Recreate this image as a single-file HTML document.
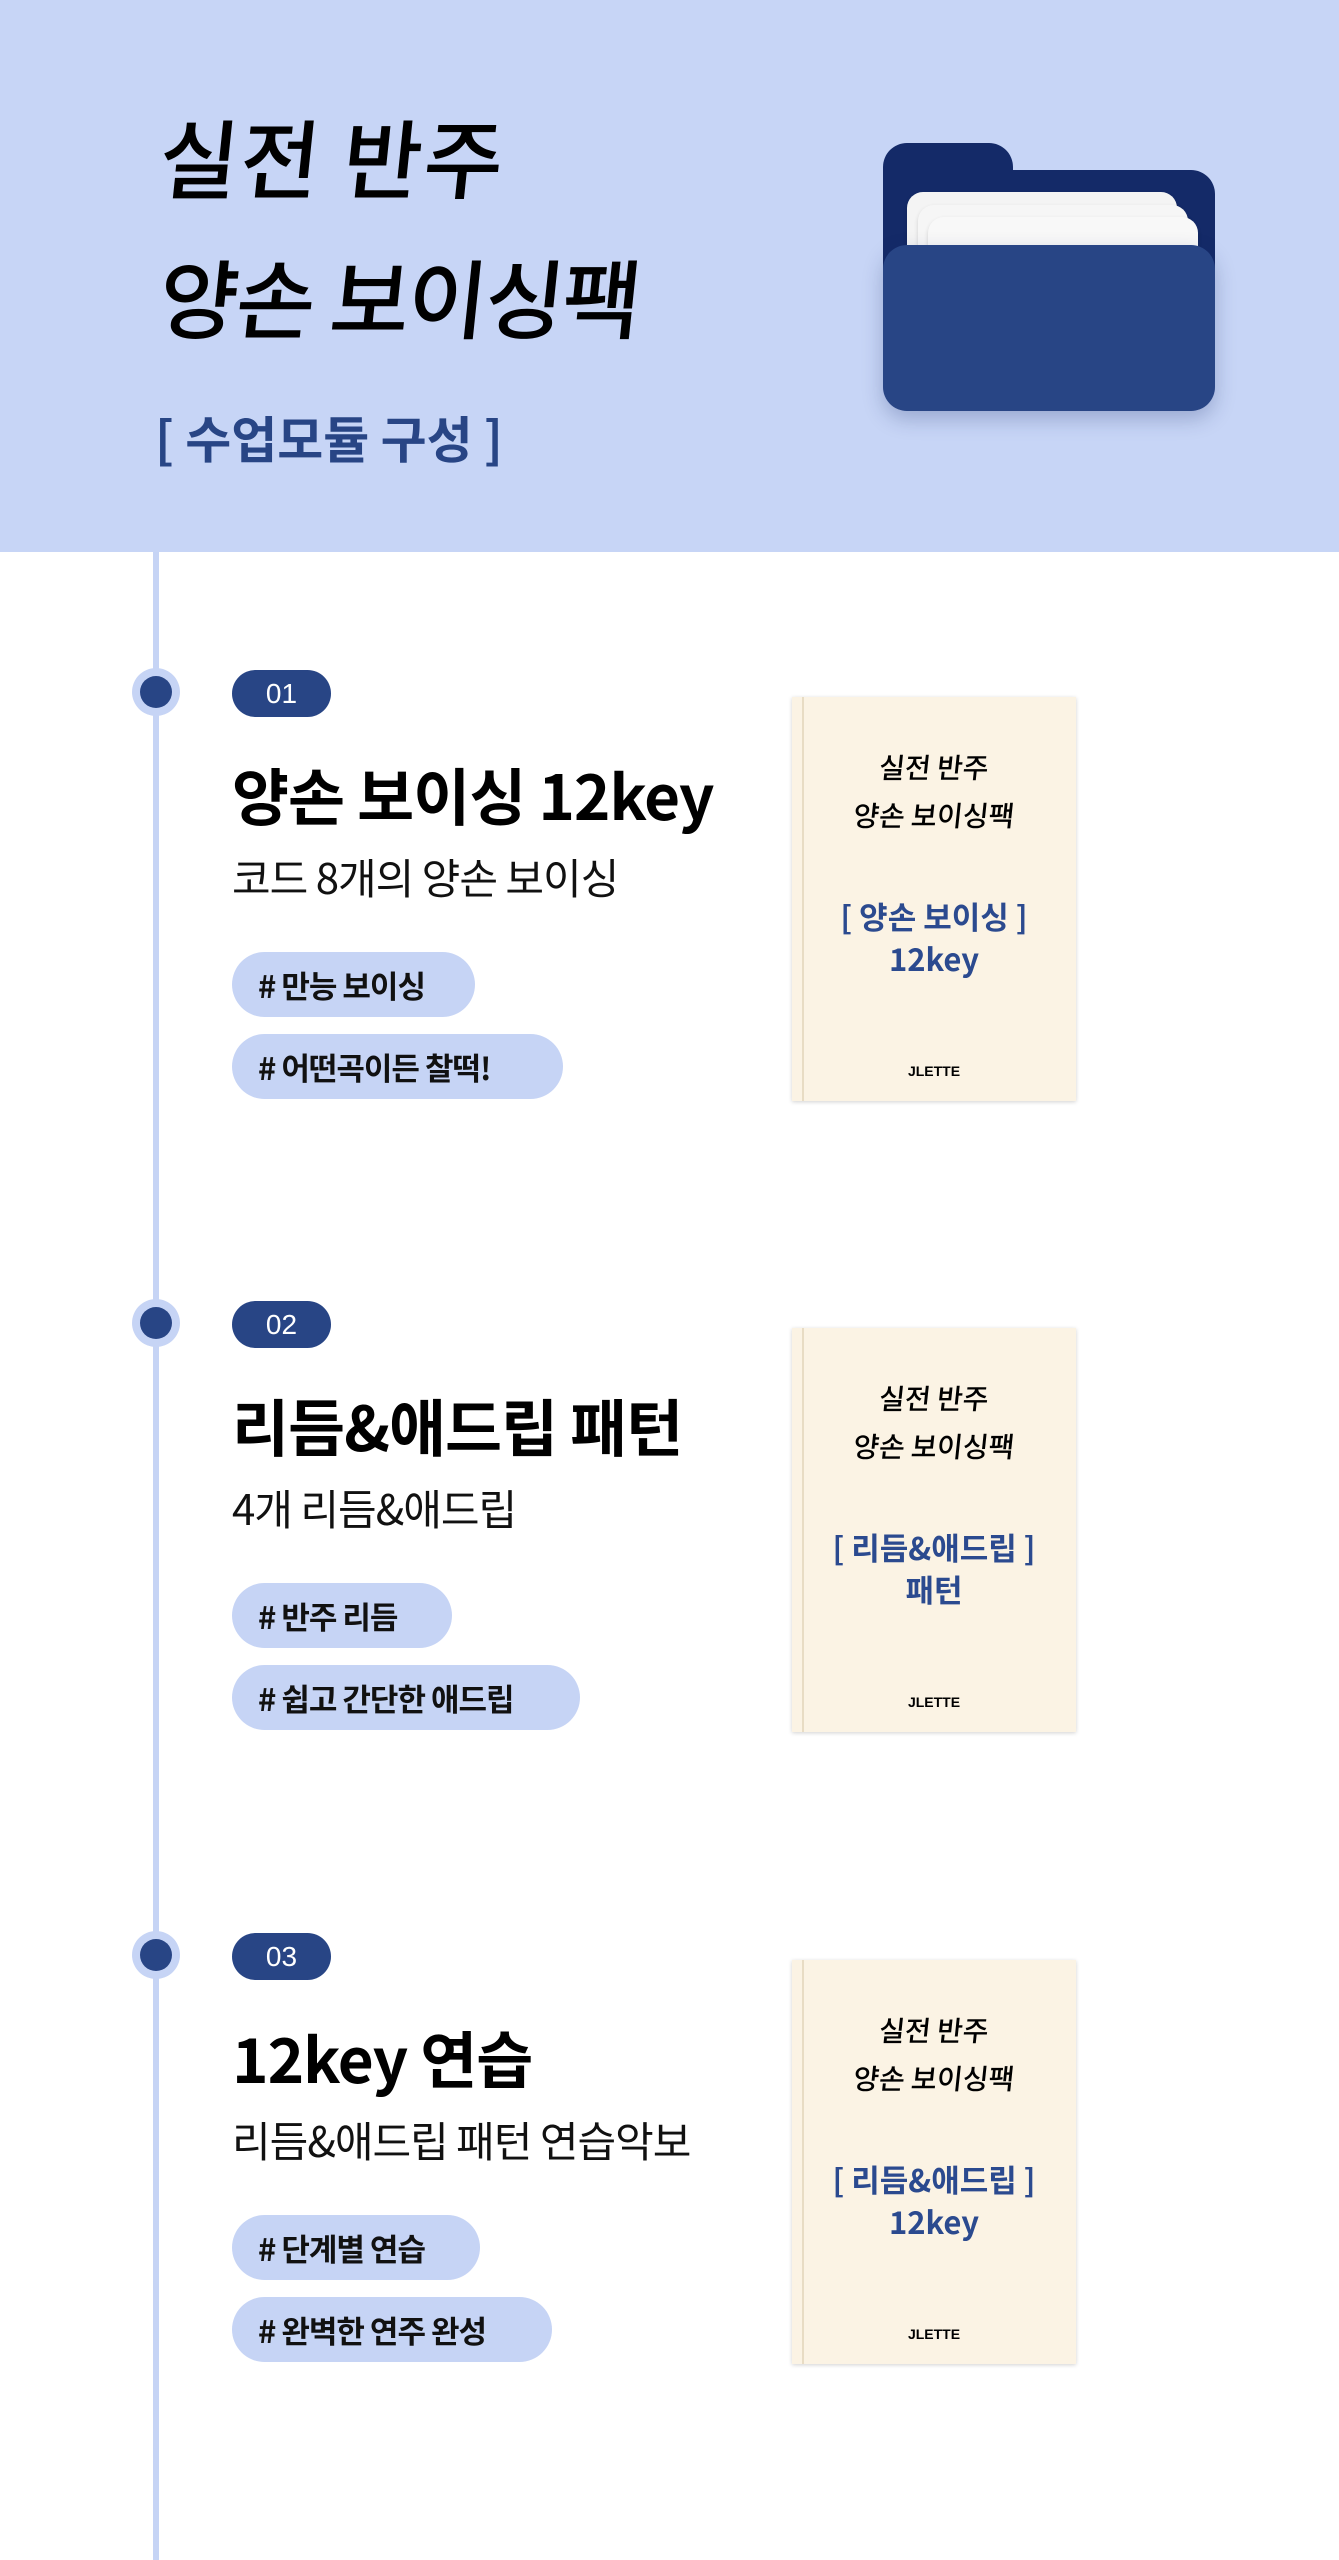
<!DOCTYPE html>
<html><head><meta charset="utf-8"><style>
*{margin:0;padding:0;box-sizing:border-box}
body{width:1339px;height:2560px;position:relative;background:#fff;font-family:"Liberation Sans","Noto Sans CJK KR",sans-serif;overflow:hidden}
.a{position:absolute;white-space:nowrap}
.hand{font-family:"Noto Sans CJK KR",sans-serif;font-weight:500;transform:skewX(-6deg)}
.line{left:153px;top:552px;width:6px;height:2008px;background:#c6d4f5}
.dot{width:48px;height:48px;border-radius:50%;background:#c6d4f5;left:132px}
.dot::after{content:"";position:absolute;left:8px;top:8px;width:32px;height:32px;border-radius:50%;background:#284585}
.badge{left:232px;width:99px;height:47px;border-radius:24px;background:#284585;color:#fff;font-size:28px;text-align:center;line-height:47px}
.title{left:232px;font-size:62px;font-weight:700;color:#000;font-family:"Noto Sans CJK KR",sans-serif;letter-spacing:-1px}
.sub{left:232px;font-size:42px;color:#111;font-family:"Noto Sans CJK KR",sans-serif;letter-spacing:-1px}
.tag{left:232px;height:65px;border-radius:33px;background:#c6d4f5;font-size:31px;font-weight:700;line-height:65px;padding-left:26px;font-family:"Noto Sans CJK KR",sans-serif;color:#111;letter-spacing:-1px}
.book{left:792px;width:284px;height:404px;background:#fbf3e4;box-shadow:0 1px 4px rgba(0,0,0,.18)}
.book::before{content:"";position:absolute;left:10px;top:0;width:2px;height:100%;background:#e8dcc4}
.bt{position:absolute;left:0;width:100%;text-align:center;white-space:nowrap}
.bh{font-size:28px;color:#000}
.bb{font-size:31px;color:#2b4a8f;font-weight:600;font-family:"Noto Sans CJK KR",sans-serif}
.bj{font-size:14px;font-weight:700;color:#000}
</style></head><body>
<div class="a" style="left:0;top:0;width:1339px;height:552px;background:#c7d5f6"></div>
<div class="a hand" style="left:160px;top:100px;font-size:86px;line-height:110px;color:#000;letter-spacing:2px">실전 반주</div>
<div class="a hand" style="left:160px;top:240px;font-size:86px;line-height:110px;color:#000;letter-spacing:-2px">양손 보이싱팩</div>
<div class="a" style="left:155px;top:406px;font-size:50px;font-weight:700;color:#284585;line-height:62px;font-family:'Noto Sans CJK KR',sans-serif">[ 수업모듈 구성 ]</div>
<!-- folder -->
<div class="a" style="left:883px;top:143px;width:130px;height:60px;background:#142a68;border-radius:24px 24px 0 0"></div>
<div class="a" style="left:883px;top:170px;width:332px;height:200px;background:#142a68;border-radius:0 24px 0 0"></div>
<div class="a" style="left:907px;top:192px;width:270px;height:80px;background:#f4f4f4;border-radius:16px 16px 0 0;box-shadow:0 2px 4px rgba(0,0,0,.15)"></div>
<div class="a" style="left:918px;top:205px;width:270px;height:80px;background:#f6f6f6;border-radius:16px 16px 0 0;box-shadow:0 2px 4px rgba(0,0,0,.15)"></div>
<div class="a" style="left:928px;top:217px;width:270px;height:80px;background:#f8f8f8;border-radius:16px 16px 0 0;box-shadow:0 2px 4px rgba(0,0,0,.15)"></div>
<div class="a" style="left:883px;top:245px;width:332px;height:166px;background:#284585;border-radius:24px;box-shadow:0 8px 20px rgba(20,40,100,.25)"></div>

<div class="a line"></div>

<!-- section 1 -->
<div class="a dot" style="top:668px"></div>
<div class="a badge" style="top:670px">01</div>
<div class="a title" style="top:748px">양손 보이싱 12key</div>
<div class="a sub" style="top:846px">코드 8개의 양손 보이싱</div>
<div class="a tag" style="top:952px;width:243px"># 만능 보이싱</div>
<div class="a tag" style="top:1034px;width:331px"># 어떤곡이든 찰떡!</div>
<div class="a book" style="top:697px">
<div class="bt hand bh" style="top:50px">실전 반주</div>
<div class="bt hand bh" style="top:98px">양손 보이싱팩</div>
<div class="bt bb" style="top:196px">[ 양손 보이싱 ]</div>
<div class="bt bb" style="top:238px">12key</div>
<div class="bt bj" style="top:366px">JLETTE</div>
</div>

<!-- section 2 -->
<div class="a dot" style="top:1299px"></div>
<div class="a badge" style="top:1301px">02</div>
<div class="a title" style="top:1379px">리듬&amp;애드립 패턴</div>
<div class="a sub" style="top:1477px">4개 리듬&amp;애드립</div>
<div class="a tag" style="top:1583px;width:220px"># 반주 리듬</div>
<div class="a tag" style="top:1665px;width:348px"># 쉽고 간단한 애드립</div>
<div class="a book" style="top:1328px">
<div class="bt hand bh" style="top:50px">실전 반주</div>
<div class="bt hand bh" style="top:98px">양손 보이싱팩</div>
<div class="bt bb" style="top:196px">[ 리듬&amp;애드립 ]</div>
<div class="bt bb" style="top:238px">패턴</div>
<div class="bt bj" style="top:366px">JLETTE</div>
</div>

<!-- section 3 -->
<div class="a dot" style="top:1931px"></div>
<div class="a badge" style="top:1933px">03</div>
<div class="a title" style="top:2011px">12key 연습</div>
<div class="a sub" style="top:2109px">리듬&amp;애드립 패턴 연습악보</div>
<div class="a tag" style="top:2215px;width:248px"># 단계별 연습</div>
<div class="a tag" style="top:2297px;width:320px"># 완벽한 연주 완성</div>
<div class="a book" style="top:1960px">
<div class="bt hand bh" style="top:50px">실전 반주</div>
<div class="bt hand bh" style="top:98px">양손 보이싱팩</div>
<div class="bt bb" style="top:196px">[ 리듬&amp;애드립 ]</div>
<div class="bt bb" style="top:238px">12key</div>
<div class="bt bj" style="top:366px">JLETTE</div>
</div>
</body></html>
